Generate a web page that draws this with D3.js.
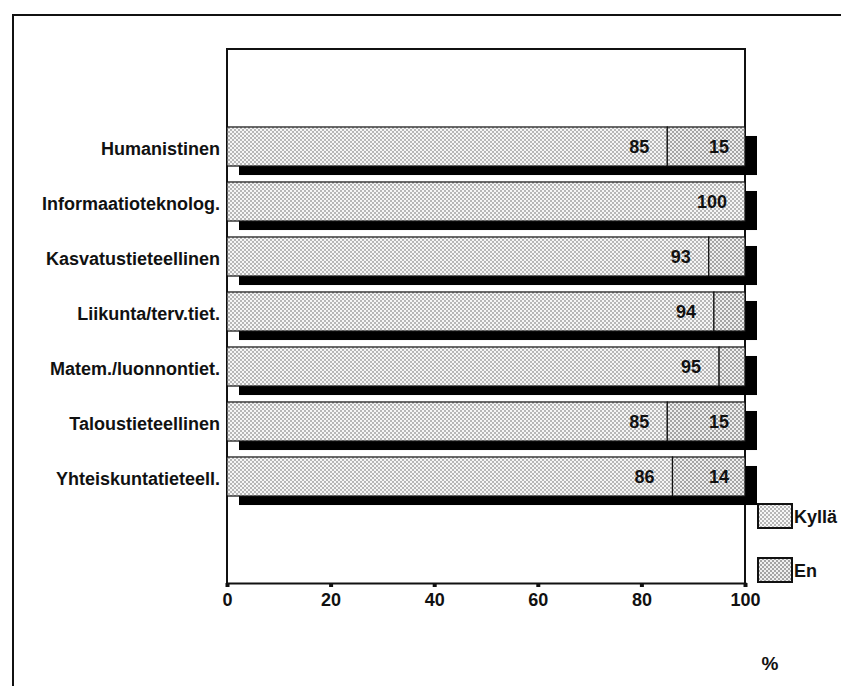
<!DOCTYPE html>
<html>
<head>
<meta charset="utf-8">
<script src="https://cdn.jsdelivr.net/npm/d3@7"></script>
<style>
body { margin: 0; background: #fff; }
svg { display: block; }
text { font-family: "Liberation Sans", Arial, sans-serif; font-weight: bold; fill: #111; }
</style>
</head>
<body>
<svg width="841" height="686"></svg>
<script>
// data
var categories = ["Humanistinen", "Informaatioteknolog.", "Kasvatustieteellinen", "Liikunta/terv.tiet.",
	"Matem./luonnontiet.", "Taloustieteellinen", "Yhteiskuntatieteell."];
var kylla = [85, 100, 93, 94, 95, 85, 86];
var en = [15, 0, 7, 6, 5, 15, 14];
var xTicks = [0, 20, 40, 60, 80, 100];
var seriesNames = ["Kyllä", "En"];

var svg = d3.select("svg");

// dotted fills like the old print
var defs = svg.append("defs");
function dots(id, bg, r) {
	var p = defs.append("pattern").attr("id", id)
		.attr("width", 4).attr("height", 4)
		.attr("patternUnits", "userSpaceOnUse");
	p.append("rect").attr("width", 4).attr("height", 4).attr("fill", bg);
	p.append("circle").attr("cx", 1).attr("cy", 1).attr("r", r).attr("fill", "#444");
	p.append("circle").attr("cx", 3).attr("cy", 3).attr("r", r).attr("fill", "#444");
}
dots("patKylla", "#f7f7f7", 0.7);
dots("patEn", "#f0f0f0", 0.8);
var fills = ["url(#patKylla)", "url(#patEn)"];

// outer frame (runs off the page)
svg.append("path")
	.attr("d", "M13,686V15H841")
	.attr("fill", "none").attr("stroke", "#111").attr("stroke-width", 2);

var x = d3.scaleLinear().domain([0, 100]).range([227, 745]);
var y = d3.scaleBand().domain(categories).range([119, 504])
	.paddingInner(0.29).paddingOuter(0.145);
var plotTop = 49, plotBottom = 583;

// plot frame
svg.append("path")
	.attr("d", "M" + x(0) + "," + plotBottom + "V" + plotTop + "H" + x(100) + "V" + plotBottom)
	.attr("fill", "none").attr("stroke", "#111").attr("stroke-width", 2);

var dx = 12, dy = 9;
var rows = svg.append("g").selectAll("g")
	.data(categories)
	.enter().append("g")
	.attr("transform", function(d) { return "translate(0," + y(d) + ")"; });

// black drop shadow behind each bar
rows.append("rect")
	.attr("x", x(0) + dx).attr("y", dy)
	.attr("width", x(100) - x(0)).attr("height", y.bandwidth())
	.attr("fill", "#000");

rows.append("rect")
	.attr("x", x(0))
	.attr("width", function(d, i) { return x(kylla[i]) - x(0); })
	.attr("height", y.bandwidth())
	.attr("fill", fills[0]).attr("stroke", "#111").attr("stroke-width", 1.2);

rows.append("rect")
	.attr("x", function(d, i) { return x(kylla[i]); })
	.attr("width", function(d, i) { return x(kylla[i] + en[i]) - x(kylla[i]); })
	.attr("height", y.bandwidth())
	.attr("fill", fills[1]).attr("stroke", "#111").attr("stroke-width", 1.2);

rows.append("text")
	.attr("x", function(d, i) { return x(kylla[i]) - 18; })
	.attr("y", y.bandwidth() / 2)
	.attr("dy", "0.36em")
	.attr("text-anchor", "end")
	.style("font-size", "18px")
	.text(function(d, i) { return kylla[i]; });

rows.filter(function(d, i) { return en[i] >= 10; })
	.append("text")
	.attr("x", x(100) - 16)
	.attr("y", y.bandwidth() / 2)
	.attr("dy", "0.36em")
	.attr("text-anchor", "end")
	.style("font-size", "18px")
	.text(function(d) { return en[categories.indexOf(d)]; });

// category labels
rows.append("text")
	.attr("x", x(0) - 7)
	.attr("y", y.bandwidth() / 2 + 2)
	.attr("dy", "0.36em")
	.attr("text-anchor", "end")
	.style("font-size", "18px")
	.text(function(d) { return d; });

// x axis
var ax = svg.append("g")
	.attr("transform", "translate(0," + plotBottom + ")")
	.call(d3.axisBottom(x).tickValues(xTicks).tickSize(4).tickPadding(6));
ax.select(".domain").attr("stroke", "#111").attr("stroke-width", 2);
ax.selectAll(".tick line").attr("stroke", "#111").attr("stroke-width", 4);
ax.selectAll(".tick text")
	.style("font-size", "18px").style("font-family", "Liberation Sans, Arial, sans-serif")
	.style("font-weight", "bold").attr("fill", "#111");

svg.append("text")
	.attr("x", 770).attr("y", 670)
	.attr("text-anchor", "middle")
	.style("font-size", "19px")
	.text("%");

// legend
var lg = svg.append("g").selectAll("g")
	.data(seriesNames)
	.enter().append("g")
	.attr("transform", function(d, i) { return "translate(758," + (504 + i * 54) + ")"; });
lg.append("rect")
	.attr("width", 34).attr("height", 24)
	.attr("fill", function(d, i) { return fills[i]; })
	.attr("stroke", "#111").attr("stroke-width", 2);
lg.append("text")
	.attr("x", 36).attr("y", 13).attr("dy", "0.36em")
	.style("font-size", "18px")
	.text(function(d) { return d; });
</script>
</body>
</html>
